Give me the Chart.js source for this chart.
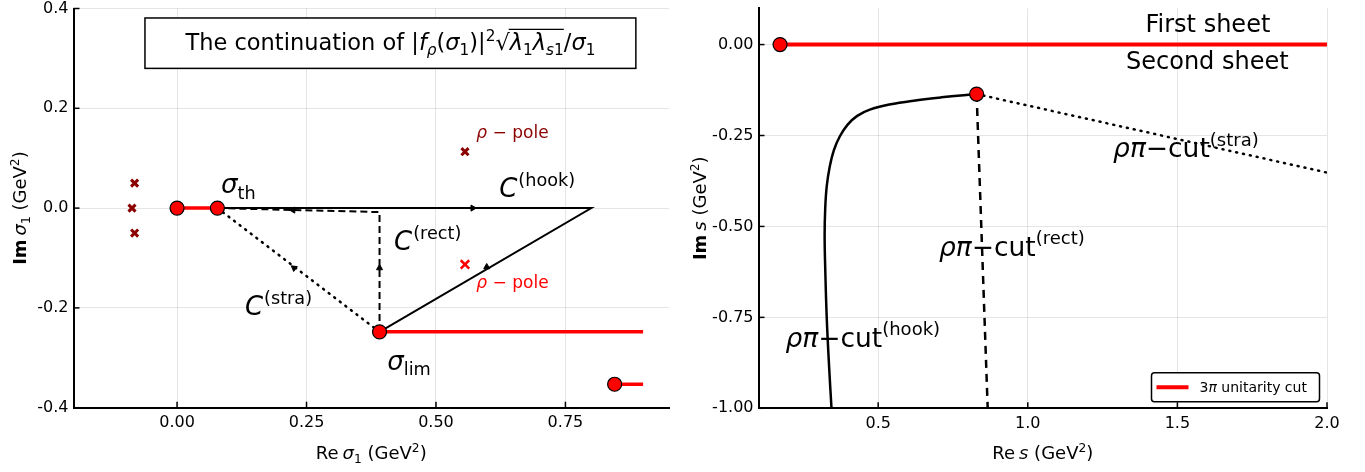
<!DOCTYPE html>
<html>
<head>
<meta charset="utf-8">
<script src="https://cdn.jsdelivr.net/npm/chart.js@4"></script>
<style>
  body { margin: 0; background: #fff; width: 1365px; height: 472px; overflow: hidden; position: relative; }
  canvas { position: absolute; top: 0; }
</style>
</head>
<body>
<canvas id="leftChart" width="680" height="472" style="left:0"></canvas>
<canvas id="rightChart" width="685" height="472" style="left:680px"></canvas>
<script>
// ---- left panel: sigma_1 plane ----
const leftTicksX = [0, 0.25, 0.5, 0.75];
const leftTicksY = [-0.4, -0.2, 0, 0.2, 0.4];
const redDotsX = [0, 0.0779, 0.391, 0.845];
const redDotsY = [0, 0, -0.248, -0.353];
const cutAX = [0, 0.0779],  cutAY = [0, 0];
const cutBX = [0.391, 0.9], cutBY = [-0.248, -0.248];
const cutCX = [0.845, 0.9], cutCY = [-0.353, -0.353];
const hookX = [0.0779, 0.8, 0.391], hookY = [0, 0, -0.248];
const rectX = [0.0779, 0.391, 0.391], rectY = [0, -0.008, -0.248];
const straX = [0.0779, 0.391], straY = [0, -0.248];
const arrowX = [0.571, 0.598, 0.224, 0.391, 0.226];
const arrowY = [0, -0.118, -0.004, -0.12, -0.12];
const arrowRot = [90, 240, 270, 0, 307];
const darkCrossX = [-0.082, -0.087, -0.082, 0.556];
const darkCrossY = [0.05, 0, -0.05, 0.113];
const poleX = [0.556], poleY = [-0.113];

// ---- right panel: s plane ----
const rightTicksX = [0.5, 1.0, 1.5, 2.0];
const rightTicksY = [-1, -0.75, -0.5, -0.25, 0];
const sDotsX = [0.172, 0.829];
const sDotsY = [0, -0.136];
const sCutX = [0.172, 2.0], sCutY = [0, 0];
const sHookX = [0.344, 0.336, 0.328, 0.323, 0.321, 0.323, 0.328, 0.338, 0.352, 0.372, 0.398, 0.430, 0.472, 0.537, 0.624, 0.712, 0.829];
const sHookY = [-1.0, -0.886, -0.750, -0.614, -0.523, -0.450, -0.390, -0.336, -0.290, -0.252, -0.220, -0.196, -0.179, -0.165, -0.1535, -0.145, -0.136];
const sRectX = [0.829, 0.866], sRectY = [-0.136, -1.0];
const sStraX = [0.829, 2.0], sStraY = [-0.136, -0.352];

const FONT = 'DejaVu Sans';
const pts = (xs, ys) => xs.map((x, i) => ({ x, y: ys[i] }));

function fontOf(s, size) {
  return (s.it ? 'italic ' : '') + (s.bold ? 'bold ' : '') + size + 'px "' + FONT + '"';
}

// draws a list of text pieces with italics, sub/superscripts and an overline
function drawRich(ctx, segs, x, y, size, color, align) {
  let w = 0;
  const items = segs.map(s => {
    const fs = (s.sub || s.sup) ? size * 0.68 : size;
    ctx.font = fontOf(s, fs);
    const sw = ctx.measureText(s.t).width;
    const it = { s, fs, x: w, w: sw };
    w += sw + (s.gap || 0);
    return it;
  });
  const x0 = align === 'center' ? x - w / 2 : align === 'right' ? x - w : x;
  const base = y + size * 0.36;
  ctx.fillStyle = color;
  ctx.textAlign = 'left';
  ctx.textBaseline = 'alphabetic';
  let ovl = null;
  items.forEach(it => {
    ctx.font = fontOf(it.s, it.fs);
    let by = base;
    if (it.s.sub) by += size * 0.22;
    if (it.s.sup) by -= size * 0.42;
    ctx.fillText(it.s.t, x0 + it.x, by);
    if (it.s.ovl) { if (!ovl) ovl = { a: x0 + it.x }; ovl.b = x0 + it.x + it.w; }
  });
  if (ovl) {
    ctx.strokeStyle = color; ctx.lineWidth = 1.2;
    ctx.beginPath(); ctx.moveTo(ovl.a - 1, base - size * 0.93); ctx.lineTo(ovl.b, base - size * 0.93); ctx.stroke();
  }
}

function axis(min, max, ticks, dec, fitSize, vertical, pad) {
  return {
    type: 'linear', min, max,
    afterBuildTicks: s => { s.ticks = ticks.map(v => ({ value: v })); },
    afterFit: s => {
      if (vertical) { s.width = fitSize; s.paddingTop = 0; s.paddingBottom = 0; }
      else { s.height = fitSize; s.paddingLeft = 0; s.paddingRight = 0; }
    },
    grid: { color: 'rgba(0,0,0,0.1)', lineWidth: 1, drawTicks: false },
    border: { display: true, color: '#000', width: 2 },
    ticks: {
      padding: pad, color: '#000', autoSkip: false, maxRotation: 0,
      font: { family: FONT, size: 16 },
      callback: v => Number(v).toFixed(dec)
    }
  };
}

function lineSet(data, color, width, dash, order) {
  return { data, showLine: true, borderColor: color, borderWidth: width, borderDash: dash || [],
           borderCapStyle: dash && dash[0] < 3 ? 'round' : 'butt', pointRadius: 0, fill: false, order };
}
function dotSet(data, order) {
  return { data, showLine: false, pointRadius: 7, pointHoverRadius: 7, backgroundColor: 'red',
           borderColor: '#000', borderWidth: 1.2, order };
}

// inner tick marks, annotations, axis titles
function decorPlugin(notes, titles, extra) {
  return {
    id: 'decor',
    afterDraw(chart) {
      const { ctx, chartArea: a, scales: { x, y } } = chart;
      ctx.save();
      ctx.strokeStyle = '#000'; ctx.lineWidth = 1.5;
      x.ticks.forEach(t => { const px = x.getPixelForValue(t.value); ctx.beginPath(); ctx.moveTo(px, a.bottom); ctx.lineTo(px, a.bottom - 6); ctx.stroke(); });
      y.ticks.forEach(t => { const py = y.getPixelForValue(t.value); ctx.beginPath(); ctx.moveTo(a.left, py); ctx.lineTo(a.left + 6, py); ctx.stroke(); });
      notes.forEach(n => drawRich(ctx, n.segs, x.getPixelForValue(n.x), y.getPixelForValue(n.y), n.size, n.color || '#000', n.align || 'left'));
      drawRich(ctx, titles.x, (a.left + a.right) / 2, 453, 18, '#000', 'center');
      ctx.save();
      ctx.translate(20, (a.top + a.bottom) / 2);
      ctx.rotate(-Math.PI / 2);
      drawRich(ctx, titles.y, 0, 0, 18, '#000', 'center');
      ctx.restore();
      if (extra) extra(chart);
      ctx.restore();
    }
  };
}

const C = (sup) => [{ t: 'C', it: 1, gap: 1 }, { t: sup, sup: 1 }];
const cut = (sup) => [{ t: 'ρπ', it: 1 }, { t: '−' }, { t: 'cut' }, { t: sup, sup: 1 }];
const pole = [{ t: 'ρ', it: 1 }, { t: ' − pole' }];

const leftNotes = [
  { x: 0.085, y: 0.049, size: 26, segs: [{ t: 'σ', it: 1 }, { t: 'th', sub: 1 }] },
  { x: 0.406, y: -0.305, size: 26, segs: [{ t: 'σ', it: 1 }, { t: 'lim', sub: 1 }] },
  { x: 0.622, y: 0.041, size: 26, segs: C('(hook)') },
  { x: 0.419, y: -0.065, size: 26, segs: C('(rect)') },
  { x: 0.131, y: -0.196, size: 26, segs: C('(stra)') },
  { x: 0.578, y: 0.153, size: 17, color: '#8b0000', segs: pole },
  { x: 0.578, y: -0.148, size: 17, color: 'red', segs: pole }
];
const titleSegs = [
  { t: 'The continuation of |' }, { t: 'f', it: 1 }, { t: 'ρ', it: 1, sub: 1 }, { t: '(' }, { t: 'σ', it: 1 },
  { t: '1', sub: 1 }, { t: ')|' }, { t: '2', sup: 1 }, { t: '√' }, { t: 'λ', it: 1, ovl: 1 }, { t: '1', sub: 1, ovl: 1 },
  { t: 'λ', it: 1, ovl: 1 }, { t: 's', it: 1, sub: 1, ovl: 1 }, { t: '1', sub: 1, ovl: 1 }, { t: '/' }, { t: 'σ', it: 1 }, { t: '1', sub: 1 }
];

new Chart(document.getElementById('leftChart'), {
  type: 'scatter',
  data: {
    datasets: [
      dotSet(pts(redDotsX, redDotsY), 0),
      { data: pts(arrowX, arrowY), pointStyle: 'triangle', pointRadius: 3.5, pointRotation: arrowRot,
        backgroundColor: '#000', borderColor: '#000', borderWidth: 1, order: 1 },
      { data: pts(darkCrossX, darkCrossY), pointStyle: 'crossRot', pointRadius: 5, borderColor: '#8b0000', borderWidth: 3, order: 1 },
      { data: pts(poleX, poleY), pointStyle: 'crossRot', pointRadius: 6, borderColor: 'red', borderWidth: 2.5, order: 1 },
      lineSet(pts(cutAX, cutAY), 'red', 3.5, null, 2),
      lineSet(pts(cutBX, cutBY), 'red', 3.5, null, 2),
      lineSet(pts(cutCX, cutCY), 'red', 3.5, null, 2),
      lineSet(pts(hookX, hookY), '#000', 2, null, 3),
      lineSet(pts(rectX, rectY), '#000', 2, [7, 4], 3),
      lineSet(pts(straX, straY), '#000', 2.5, [1, 6], 3)
    ]
  },
  options: {
    responsive: false, animation: false, devicePixelRatio: 1,
    layout: { padding: { top: 7.7, right: 11, left: 0, bottom: 0 } },
    plugins: { legend: { display: false }, tooltip: { enabled: false } },
    scales: {
      x: axis(-0.2, 0.95, leftTicksX, 2, 64.3, false, 6),
      y: axis(-0.4, 0.4, leftTicksY, 1, 73.5, true, 5)
    }
  },
  plugins: [decorPlugin(leftNotes, {
    x: [{ t: 'Re', gap: 4 }, { t: 'σ', it: 1 }, { t: '1', sub: 1 }, { t: ' (GeV' }, { t: '2', sup: 1 }, { t: ')' }],
    y: [{ t: 'Im', bold: 1, gap: 4 }, { t: 'σ', it: 1 }, { t: '1', sub: 1 }, { t: ' (GeV' }, { t: '2', sup: 1 }, { t: ')' }]
  }, chart => {
    const { ctx, scales: { x, y } } = chart;
    const l = x.getPixelForValue(-0.062), r = x.getPixelForValue(0.886);
    const t = y.getPixelForValue(0.381), b = y.getPixelForValue(0.28);
    ctx.fillStyle = '#fff'; ctx.fillRect(l, t, r - l, b - t);
    ctx.strokeStyle = '#000'; ctx.lineWidth = 1.5; ctx.strokeRect(l, t, r - l, b - t);
    drawRich(ctx, titleSegs, (l + r) / 2, (t + b) / 2 - 1, 22.5, '#000', 'center');
  })]
});

const rightNotes = [
  { x: 1.602, y: 0.058, size: 24, align: 'center', segs: [{ t: 'First sheet' }] },
  { x: 1.600, y: -0.043, size: 24, align: 'center', segs: [{ t: 'Second sheet' }] },
  { x: 1.285, y: -0.284, size: 26.5, segs: cut('(stra)') },
  { x: 0.703, y: -0.554, size: 26.5, segs: cut('(rect)') },
  { x: 0.190, y: -0.804, size: 26.5, segs: cut('(hook)') }
];

new Chart(document.getElementById('rightChart'), {
  type: 'scatter',
  data: {
    datasets: [
      dotSet(pts(sDotsX, sDotsY), 0),
      lineSet(pts(sCutX, sCutY), 'red', 4, null, 2),
      Object.assign(lineSet(pts(sHookX, sHookY), '#000', 2.5, null, 3), { tension: 0.4 }),
      lineSet(pts(sRectX, sRectY), '#000', 2.5, [8, 6], 3),
      lineSet(pts(sStraX, sStraY), '#000', 2.5, [1, 6], 3)
    ]
  },
  options: {
    responsive: false, animation: false, devicePixelRatio: 1,
    layout: { padding: { top: 4.7, right: 38, left: 0, bottom: 0 } },
    plugins: { legend: { display: false }, tooltip: { enabled: false } },
    scales: {
      x: axis(0.1, 2.0, rightTicksX, 1, 63.7, false, 6),
      y: axis(-1, 0.1, rightTicksY, 2, 78.5, true, 5)
    }
  },
  plugins: [decorPlugin(rightNotes, {
    x: [{ t: 'Re', gap: 4 }, { t: 's', it: 1 }, { t: ' (GeV' }, { t: '2', sup: 1 }, { t: ')' }],
    y: [{ t: 'Im', bold: 1, gap: 4 }, { t: 's', it: 1 }, { t: ' (GeV' }, { t: '2', sup: 1 }, { t: ')' }]
  }, chart => {
    // legend box, bottom right of the plot
    const { ctx, chartArea: a } = chart;
    const r = a.right - 7.5, b = a.bottom - 6.6, l = r - 168, t = b - 29;
    ctx.fillStyle = '#fff'; ctx.strokeStyle = '#000'; ctx.lineWidth = 1.5;
    ctx.beginPath(); ctx.roundRect(l, t, r - l, b - t, 3); ctx.fill(); ctx.stroke();
    ctx.strokeStyle = chart.data.datasets[1].borderColor; ctx.lineWidth = 4;
    ctx.beginPath(); ctx.moveTo(l + 5, (t + b) / 2); ctx.lineTo(l + 37, (t + b) / 2); ctx.stroke();
    drawRich(ctx, [{ t: '3' }, { t: 'π', it: 1 }, { t: ' unitarity cut' }], l + 48, (t + b) / 2, 14, '#000', 'left');
  })]
});
</script>
</body>
</html>
